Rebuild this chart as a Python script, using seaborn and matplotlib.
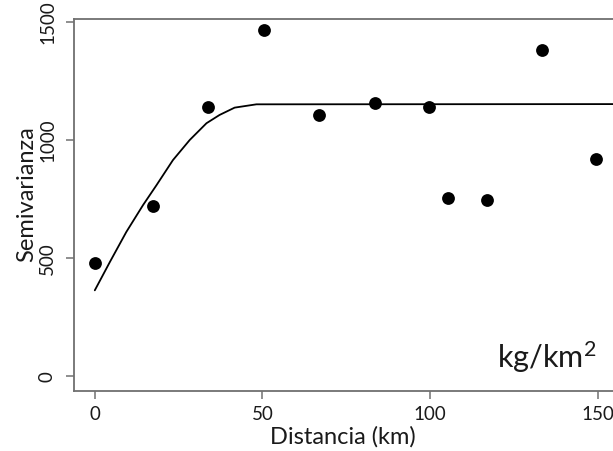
"""
Semivariograma empirico con modelo ajustado
"""
import matplotlib
matplotlib.use('Agg')
import matplotlib.pyplot as plt
import seaborn as sns
import pandas as pd

sns.set_style('white')
plt.rcParams['font.family'] = ['Lato', 'DejaVu Sans']
plt.rcParams['mathtext.fontset'] = 'custom'
plt.rcParams['mathtext.rm'] = 'Lato'
plt.rcParams['mathtext.it'] = 'Lato'

dist_km = [0, 17.5, 33.7, 50.4, 66.8, 83.4, 99.7, 105.4, 116.8, 133.4, 149.5]
semivar = [478, 720, 1138, 1466, 1106, 1155, 1138, 754, 746, 1381, 921]

# Modelo ajustado
model_km = [0, 4.5, 9.4, 14.4, 18.4, 23.3, 28.3, 33.3, 37.2, 41.7, 48.2, 160]
model_semivar = [364, 484, 611, 725, 809, 915, 1000, 1071, 1106, 1137, 1151, 1152]

x_ticks = [0, 50, 100, 150]
y_ticks = [0, 500, 1000, 1500]

emp = pd.DataFrame({'dist': dist_km, 'gamma': semivar})
mod = pd.DataFrame({'dist': model_km, 'gamma': model_semivar})

W, H = 613, 451
fig = plt.figure(figsize=(W / 100, H / 100), dpi=100)
# axes box: left 74px, right 618px (just past the image edge), top 19px, bottom 391px
ax = fig.add_axes([74 / W, (H - 391) / H, (618 - 74) / W, (391 - 19) / H])

sns.lineplot(data=mod, x='dist', y='gamma', ax=ax, color='black', linewidth=1.3,
             sort=False, estimator=None)
sns.scatterplot(data=emp, x='dist', y='gamma', ax=ax, color='black', s=85,
                edgecolor='black', linewidth=0, zorder=3)

ax.set_xlim(-6.2, 156)
ax.set_ylim(-62, 1512)
ax.set_xticks(x_ticks)
ax.set_yticks(y_ticks)

spine_col = '#707070'
for s in ax.spines.values():
    s.set_color(spine_col)
    s.set_linewidth(1.3)

ax.tick_params(axis='both', direction='out', length=6, width=1.1, color=spine_col,
               labelsize=13.5, labelcolor='#1a1a1a', bottom=True, left=True)
ax.tick_params(axis='x', pad=5)
ax.tick_params(axis='y', pad=7)
for lab in ax.get_yticklabels():
    lab.set_rotation(90)
    lab.set_va('center')

ax.set_xlabel('Distancia (km)', fontsize=17, color='#1a1a1a')
ax.set_ylabel('Semivarianza', fontsize=17, color='#1a1a1a')
ax.xaxis.set_label_coords(0.494, -0.095)
ax.yaxis.set_label_coords(-0.068, 0.53)

ax.text(120, 34, r'kg/km$^{2}$', fontsize=22, color='#1a1a1a', ha='left', va='baseline')

fig.savefig('out.png', dpi=100, facecolor='white')
